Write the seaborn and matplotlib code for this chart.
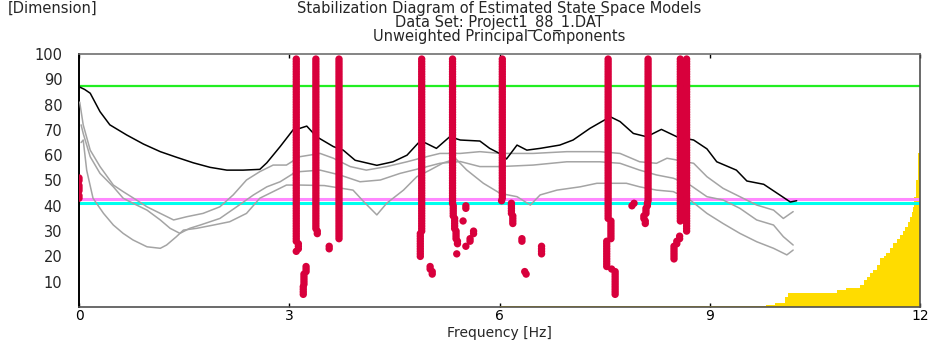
import numpy as np
import pandas as pd
import matplotlib
matplotlib.use("Agg")
import matplotlib.pyplot as plt
import seaborn as sns

# ---------------- data ----------------
black_freq = [0.0, 0.02, 0.08, 0.16, 0.30, 0.44, 0.68, 0.92, 1.16, 1.39, 1.63, 1.87, 2.11, 2.34, 2.58,
              2.68, 2.87, 3.06, 3.15, 3.25, 3.39, 3.63, 3.77, 3.94, 4.25, 4.48, 4.68, 4.84, 4.91, 5.10,
              5.29, 5.44, 5.72, 5.86, 6.05, 6.10, 6.25, 6.39, 6.58, 6.86, 7.05, 7.29, 7.58, 7.72, 7.91,
              8.10, 8.31, 8.53, 8.77, 8.96, 9.10, 9.38, 9.53, 9.77, 9.96, 10.15, 10.24]
black_val = [87.0, 86.8, 86.0, 84.5, 77.2, 72.0, 68.0, 64.4, 61.4, 59.2, 57.0, 55.2, 54.1, 54.1, 54.4,
             57.0, 63.4, 70.2, 70.6, 71.5, 67.3, 63.4, 62.0, 58.0, 56.0, 57.4, 60.0, 64.8, 65.3, 62.7,
             67.3, 66.0, 65.6, 62.7, 60.0, 58.5, 64.0, 62.0, 62.7, 64.0, 66.0, 70.6, 75.2, 73.3, 68.6,
             67.3, 70.2, 67.3, 66.0, 62.5, 57.4, 54.1, 49.8, 48.5, 45.0, 41.5, 42.0]

gray1_freq = [0.01, 0.06, 0.16, 0.30, 0.49, 0.63, 0.82, 0.97, 1.16, 1.35, 1.54, 1.77, 2.01, 2.20, 2.39,
              2.58, 2.77, 2.96, 3.15, 3.44, 3.63, 3.87, 4.10, 4.39, 4.68, 4.87, 5.15, 5.44, 5.72, 6.01,
              6.48, 6.96, 7.43, 7.72, 8.00, 8.24, 8.39, 8.53, 8.77, 8.96, 9.19, 9.43, 9.67, 9.91, 10.05,
              10.19]
gray1_val = [81.0, 72.0, 62.0, 55.5, 48.2, 45.6, 42.3, 39.6, 37.0, 34.4, 35.7, 37.0, 39.6, 44.3, 50.2,
             53.5, 56.1, 56.1, 59.4, 60.7, 58.8, 55.5, 54.1, 55.5, 57.4, 58.8, 60.7, 60.7, 61.4, 60.7,
             60.7, 61.4, 61.4, 60.7, 57.4, 56.8, 58.8, 58.1, 56.8, 51.5, 46.9, 43.6, 40.3, 38.3, 35.0,
             37.7]

gray2_freq = [0.03, 0.06, 0.16, 0.30, 0.49, 0.63, 0.77, 0.97, 1.16, 1.30, 1.44, 1.58, 1.73, 2.01, 2.25,
              2.49, 2.68, 2.87, 3.06, 3.15, 3.44, 3.72, 4.01, 4.30, 4.58, 4.87, 5.15, 5.44, 5.72, 6.01,
              6.48, 6.96, 7.43, 7.72, 8.00, 8.24, 8.48, 8.72, 8.96, 9.19, 9.43, 9.67, 9.91, 10.05, 10.19]
gray2_val = [72.0, 68.6, 59.4, 52.8, 47.5, 43.0, 41.0, 38.3, 34.4, 31.1, 29.1, 31.1, 32.4, 35.0, 39.6,
             44.3, 47.5, 49.5, 52.8, 53.5, 54.1, 52.2, 49.5, 50.2, 52.8, 54.8, 56.8, 57.5, 55.5, 55.5,
             56.1, 57.4, 57.4, 56.8, 54.1, 52.2, 50.9, 48.2, 43.6, 42.3, 39.0, 34.4, 32.4, 27.8, 24.5]

gray3_freq = [0.03, 0.06, 0.11, 0.20, 0.35, 0.49, 0.63, 0.77, 0.97, 1.16, 1.25, 1.39, 1.49, 1.68, 1.92,
              2.15, 2.39, 2.58, 2.77, 2.96, 3.15, 3.50, 3.91, 4.05, 4.25, 4.39, 4.63, 4.82, 5.00, 5.20,
              5.38, 5.53, 5.77, 6.01, 6.25, 6.44, 6.58, 6.82, 7.15, 7.39, 7.81, 8.00, 8.24, 8.48, 8.72,
              8.96, 9.19, 9.43, 9.67, 9.91, 10.10, 10.19]
gray3_val = [65.0, 66.0, 54.0, 43.0, 37.0, 32.4, 29.1, 26.5, 23.8, 23.2, 24.5, 27.8, 30.4, 31.1, 32.4,
             33.7, 37.0, 43.0, 45.6, 48.2, 48.2, 48.0, 46.2, 42.0, 36.4, 41.0, 46.2, 51.5, 54.0, 57.0,
             58.5, 54.2, 48.9, 44.9, 43.6, 40.3, 44.3, 46.2, 47.5, 48.9, 48.9, 47.5, 46.2, 45.6, 42.3,
             37.0, 33.0, 29.1, 25.8, 23.2, 20.6, 22.5]

# stable-pole runs: frequency [Hz], lowest and highest model order of the run
pole_freq = [0.00, 0.00, 0.00,
             3.10, 3.13, 3.10, 3.24, 3.21, 3.20,
             3.38, 3.40, 3.57,
             3.71,
             4.89, 4.87, 5.01, 5.04,
             5.33, 5.34, 5.36, 5.38, 5.40, 5.39, 5.52, 5.48, 5.63, 5.58, 5.52,
             6.04, 6.03, 6.17, 6.19, 6.32, 6.60, 6.36, 6.38,
             7.55, 7.59, 7.60, 7.53, 7.65,
             8.12, 8.11, 8.09, 8.06, 8.08, 7.89, 7.92,
             8.58, 8.67, 8.57, 8.53, 8.49]
pole_lo = [43, 46, 50,
           26, 23, 22, 14, 9, 5,
           31, 29, 23,
           27,
           30, 20, 15, 13,
           41, 36, 31, 27, 25, 21, 39, 34, 29, 26, 24,
           43, 42, 37, 33, 26, 21, 14, 13,
           35, 27, 15, 16, 5,
           42, 40, 37, 35, 33, 40, 41,
           34, 30, 27, 25, 19]
pole_hi = [44, 48, 51,
           98, 25, 22, 16, 13, 8,
           98, 30, 24,
           98,
           98, 29, 16, 14,
           98, 40, 35, 30, 26, 21, 40, 34, 30, 27, 24,
           98, 42, 41, 36, 27, 24, 14, 13,
           98, 34, 15, 26, 14,
           98, 41, 39, 36, 34, 40, 41,
           98, 98, 28, 26, 24]

yellow_freq = [6.00, 9.80, 9.93, 10.07, 10.12, 10.81, 10.95, 11.14, 11.20, 11.24, 11.29, 11.33, 11.38,
               11.43, 11.48, 11.52, 11.57, 11.62, 11.67, 11.72, 11.76, 11.79, 11.83, 11.86, 11.88,
               11.90, 11.92, 11.94, 11.95, 11.97, 12.00]
yellow_val = [0.4, 0.8, 1.5, 4.1, 5.7, 6.7, 7.4, 8.7, 10.5, 12.0, 13.5, 14.6, 16.5,
              19.2, 20.2, 21.2, 23.5, 25.2, 27.0, 28.5, 30.0, 31.7, 33.5, 35.7, 37.5,
              39.6, 43.6, 47.0, 50.2, 60.7, 62.0]

green_level = 87.5
magenta_level = 42.8
cyan_level = 41.3

x_ticks = [0, 3, 6, 9, 12]
y_ticks = [10, 20, 30, 40, 50, 60, 70, 80, 90, 100]

title_lines = ["Stabilization Diagram of Estimated State Space Models",
               "Data Set: Project1_88_1.DAT",
               "Unweighted Principal Components"]

# ---------------- build pole table ----------------
rows = []
for f, lo, hi in zip(pole_freq, pole_lo, pole_hi):
    for o in range(lo, hi + 1):
        rows.append((f, o))
poles = pd.DataFrame(rows, columns=["freq", "order"])

# ---------------- figure ----------------
sns.set_style("white")
plt.rcParams["font.family"] = ["DejaVu Sans"]

W, H = 936, 343
fig = plt.figure(figsize=(W / 100, H / 100), dpi=100)
L, R, T, B = 79, 920, 54, 307
ax = fig.add_axes([L / W, 1 - B / H, (R - L) / W, (B - T) / H])

ax.fill_between(yellow_freq, 0, yellow_val, step="post", color="#FFDC00", linewidth=0, zorder=1)

ax.axhline(green_level, color="#22EE22", lw=1.6, zorder=2)
ax.axhline(magenta_level, color="#FF88FF", lw=2.2, zorder=2)
ax.axhline(cyan_level, color="#00FFEE", lw=2.2, zorder=2)

for fx, vy in [(gray1_freq, gray1_val), (gray2_freq, gray2_val), (gray3_freq, gray3_val)]:
    sns.lineplot(x=fx, y=vy, ax=ax, color="#A4A4A4", lw=1.1, sort=False, estimator=None, zorder=3)
sns.lineplot(x=black_freq, y=black_val, ax=ax, color="black", lw=1.1, sort=False, estimator=None, zorder=4)

sns.scatterplot(data=poles, x="freq", y="order", ax=ax, color="#D8003C", s=28,
                edgecolor="none", linewidth=0, zorder=5)

ax.set_xlim(0, 12)
ax.set_ylim(0, 100)
ax.set_xticks(x_ticks)
ax.set_xticklabels([str(t) for t in x_ticks])
ax.set_yticks(y_ticks)
ax.set_yticklabels([str(t) for t in y_ticks])
ax.tick_params(axis="x", direction="in", length=3, width=1, top=True, bottom=True,
               pad=1.5, labelsize=10, colors="black")
ax.tick_params(axis="y", length=0, pad=12, labelsize=10.5)
ax.set_xlabel("")
ax.set_ylabel("")

for side, col, lw in [("left", "black", 1.4), ("bottom", "#505050", 1.2),
                      ("top", "#707070", 1.2), ("right", "#505050", 1.2)]:
    ax.spines[side].set_visible(True)
    ax.spines[side].set_color(col)
    ax.spines[side].set_linewidth(lw)

cx = ((L + R) / 2) / W
fig.text(cx, 1 - 1 / H, "\n".join(title_lines), ha="center", va="top",
         fontsize=10.5, linespacing=0.86)
fig.text(8 / W, 1 - 8 / H, "[Dimension]", ha="left", va="center", fontsize=10.5)
fig.text(cx, 1 - 333 / H, "Frequency [Hz]", ha="center", va="center", fontsize=10)

fig.savefig("out.png", dpi=100)
